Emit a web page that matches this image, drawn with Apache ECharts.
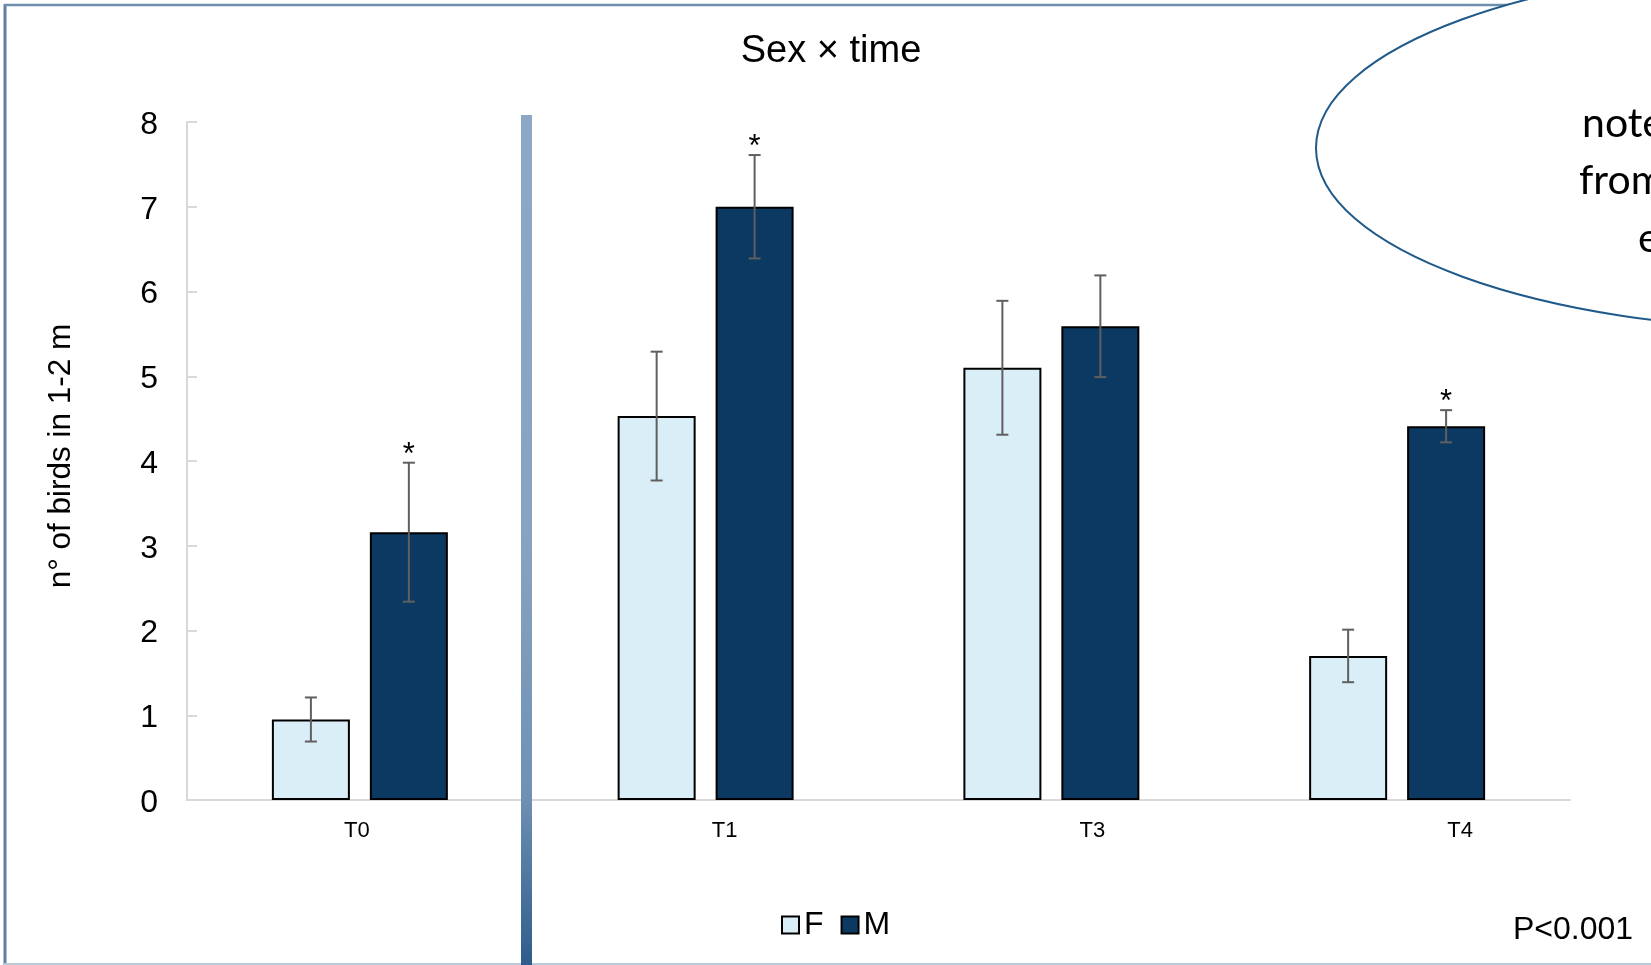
<!DOCTYPE html>
<html>
<head>
<meta charset="utf-8">
<title>Sex × time</title>
<script src="https://cdn.jsdelivr.net/npm/echarts@6/dist/echarts.min.js"></script>
<style>
  html, body { margin: 0; padding: 0; background: #ffffff; }
  #chart { width: 1651px; height: 965px; }
</style>
</head>
<body>
<div id="chart"></div>
<script>
// Sampling times and mean number of birds (± error) per sex
const categories = ['T0', 'T1', 'T3', 'T4'];
const femaleMeans = [0.95, 4.53, 5.10, 1.70];
const femaleErr = [0.26, 0.76, 0.79, 0.31];
const maleMeans = [3.16, 7.00, 5.59, 4.41];
const maleErr = [0.82, 0.61, 0.60, 0.19];
const maleSignificant = [true, true, false, true];
const yMin = 0;
const yMax = 8;
const yStep = 1;

const FONT = '"Liberation Sans", Arial, sans-serif';
const NOTE_FONT = '41px Lato, "Open Sans", sans-serif';
const F_COLOR = '#daeef8';
const M_COLOR = '#0b3962';
const ERR_COLOR = '#5f5f5f';

// bar geometry as fractions of a category band
const BAR_W = 0.2256;
const BAR_GAP = 0.256; // fraction of bar width
const HALF_OFFSET = (BAR_W + BAR_W * BAR_GAP) / 2;

function errorRows(means, errs, sig) {
  return means.map((m, i) => [i, m, errs[i], sig ? (sig[i] ? 1 : 0) : 0]);
}

function makeErrorRenderer(side) {
  return function (params, api) {
    const idx = api.value(0);
    const mean = api.value(1);
    const err = api.value(2);
    const star = api.value(3);
    const band = api.size([1, 0])[0];
    const top = api.coord([idx, mean + err]);
    const bot = api.coord([idx, mean - err]);
    const x = top[0] + side * band * HALF_OFFSET;
    const cap = 6;
    const lineStyle = { stroke: ERR_COLOR, lineWidth: 2 };
    const children = [
      { type: 'line', shape: { x1: x, y1: top[1], x2: x, y2: bot[1] }, style: lineStyle },
      { type: 'line', shape: { x1: x - cap, y1: top[1], x2: x + cap, y2: top[1] }, style: lineStyle },
      { type: 'line', shape: { x1: x - cap, y1: bot[1], x2: x + cap, y2: bot[1] }, style: lineStyle }
    ];
    if (star) {
      children.push({
        type: 'text',
        style: {
          x: x, y: top[1] + 8, text: '*',
          fill: '#000', font: '31px ' + FONT,
          textAlign: 'center', textVerticalAlign: 'bottom'
        }
      });
    }
    return { type: 'group', children: children };
  };
}

const chart = echarts.init(document.getElementById('chart'), null, { renderer: 'canvas' });

const option = {
  backgroundColor: '#ffffff',
  animation: false,
  title: {
    text: 'Sex × time',
    left: 826, top: 28, textAlign: 'center',
    textStyle: { fontFamily: FONT, fontSize: 38, fontWeight: 'normal', color: '#000' }
  },
  legend: {
    data: ['F', 'M'],
    left: 781, top: 909,
    icon: 'rect', itemWidth: 17, itemHeight: 17, itemGap: 17,
    padding: 0,
    textStyle: { fontFamily: FONT, fontSize: 32, color: '#000' }
  },
  grid: [
    { left: 187, right: 81, top: 122, bottom: 165 },
    { left: 173, right: 7, top: 122, bottom: 165 }
  ],
  xAxis: [
    {
      type: 'category', gridIndex: 0, data: categories,
      axisLine: { show: true, lineStyle: { color: '#d9d9d9', width: 2 } },
      axisTick: { show: false },
      axisLabel: { show: false },
      splitLine: { show: false }
    },
    {
      type: 'category', gridIndex: 1, data: categories,
      axisLine: { show: false }, axisTick: { show: false },
      axisLabel: { fontFamily: FONT, fontSize: 22, color: '#000', margin: 20 },
      splitLine: { show: false }
    }
  ],
  yAxis: [
    {
      type: 'value', gridIndex: 0, min: yMin, max: yMax, interval: yStep,
      name: 'n° of birds in 1-2 m', nameLocation: 'middle', nameRotate: 90, nameGap: 110,
      nameTextStyle: { fontFamily: FONT, fontSize: 31.5, color: '#000', padding: [0, 0, 0, 10] },
      axisLine: { show: true, lineStyle: { color: '#d9d9d9', width: 2 } },
      axisTick: { show: true, inside: true, length: 10, lineStyle: { color: '#d9d9d9', width: 2 } },
      axisLabel: {
        margin: 29,
        formatter: (v) => '{v|' + v + '}',
        rich: { v: { fontFamily: FONT, fontSize: 32, color: '#000', padding: [6, 0, 0, 0] } }
      },
      splitLine: { show: false }
    },
    { type: 'value', gridIndex: 1, min: yMin, max: yMax, show: false }
  ],
  series: [
    {
      name: 'F', type: 'bar', xAxisIndex: 0, yAxisIndex: 0,
      data: femaleMeans,
      barWidth: (BAR_W * 100) + '%', barGap: (BAR_GAP * 100) + '%',
      itemStyle: { color: F_COLOR, borderColor: '#000', borderWidth: 2 }
    },
    {
      name: 'M', type: 'bar', xAxisIndex: 0, yAxisIndex: 0,
      data: maleMeans,
      barWidth: (BAR_W * 100) + '%', barGap: (BAR_GAP * 100) + '%',
      itemStyle: { color: M_COLOR, borderColor: '#000', borderWidth: 2 }
    },
    {
      name: 'F error', type: 'custom', xAxisIndex: 0, yAxisIndex: 0, z: 5,
      renderItem: makeErrorRenderer(-1),
      encode: { x: 0, y: [1] },
      data: errorRows(femaleMeans, femaleErr, null),
      silent: true
    },
    {
      name: 'M error', type: 'custom', xAxisIndex: 0, yAxisIndex: 0, z: 5,
      renderItem: makeErrorRenderer(1),
      encode: { x: 0, y: [1] },
      data: errorRows(maleMeans, maleErr, maleSignificant),
      silent: true
    }
  ],
  graphic: [
    // slide frame
    { type: 'line', z: 1, shape: { x1: 5, y1: 4, x2: 5, y2: 965 }, style: { stroke: '#5d80a3', lineWidth: 3 } },
    { type: 'line', z: 1, shape: { x1: 4, y1: 5, x2: 1651, y2: 5 }, style: { stroke: '#6f8fae', lineWidth: 2.5 } },
    { type: 'line', z: 1, shape: { x1: 4, y1: 964, x2: 1651, y2: 964 }, style: { stroke: '#bccbd9', lineWidth: 2 } },
    // vertical divider
    {
      type: 'rect', z: 100,
      shape: { x: 521, y: 115, width: 11, height: 850 },
      style: {
        fill: {
          type: 'linear', x: 0, y: 0, x2: 0, y2: 1,
          colorStops: [
            { offset: 0, color: '#8ca8c4' },
            { offset: 0.5, color: '#87a3c0' },
            { offset: 0.8, color: '#6f91b4' },
            { offset: 1, color: '#2e5d8c' }
          ]
        }
      }
    },
    // callout ellipse
    {
      type: 'ellipse', z: 100,
      shape: { cx: 1816, cy: 148, rx: 500, ry: 182 },
      style: { fill: '#ffffff', stroke: '#1f5a8a', lineWidth: 2 }
    },
    { type: 'text', z: 101, style: { x: 1582, y: 103, text: 'note', font: NOTE_FONT, fill: '#000' } },
    { type: 'text', z: 101, style: { x: 1579, y: 160, text: 'from', font: NOTE_FONT, fill: '#000' } },
    { type: 'text', z: 101, style: { x: 1638, y: 218, text: 'e', font: NOTE_FONT, fill: '#000' } },
    // significance note
    { type: 'text', z: 10, style: { x: 1513, y: 930, text: 'P<0.001', font: '32px ' + FONT, fill: '#000', textVerticalAlign: 'middle' } }
  ]
};

chart.setOption(option);
</script>
</body>
</html>
